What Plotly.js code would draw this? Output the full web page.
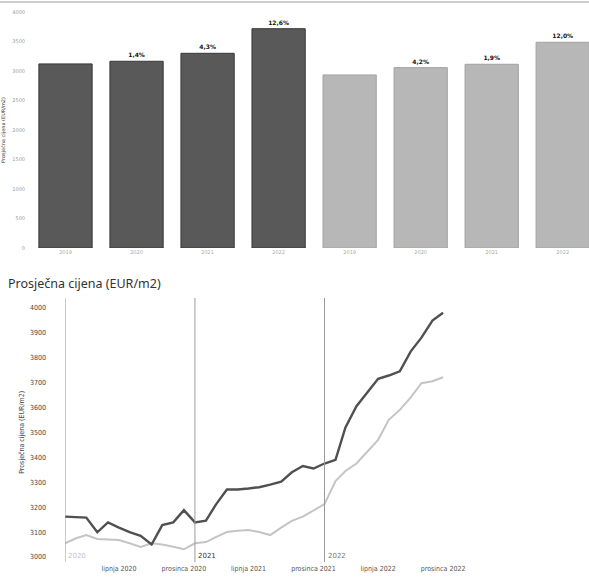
<!DOCTYPE html>
<html><head><meta charset="utf-8">
<script src="https://cdn.plot.ly/plotly-3.0.1.min.js"></script>
<style>html,body{margin:0;padding:0;background:#fff;}#chart{width:589px;height:578px;}</style>
</head><body><div id="chart"></div>
<script>
// ---- top bar chart data ----
const barCategories = ['2019', '2020', '2021', '2022', '2019', '2020', '2021', '2022'];
const barValues = [3120, 3165, 3300, 3717, 2933, 3057, 3114, 3487];
const barLabels = ['', '1,4%', '4,3%', '12,6%', '', '4,2%', '1,9%', '12,0%'];
const barYTicks = [0, 500, 1000, 1500, 2000, 2500, 3000, 3500, 4000];

// ---- bottom line chart data ----
const months = ['2020-01-01','2020-02-01','2020-03-01','2020-04-01','2020-05-01','2020-06-01',
  '2020-07-01','2020-08-01','2020-09-01','2020-10-01','2020-11-01','2020-12-01',
  '2021-01-01','2021-02-01','2021-03-01','2021-04-01','2021-05-01','2021-06-01',
  '2021-07-01','2021-08-01','2021-09-01','2021-10-01','2021-11-01','2021-12-01',
  '2022-01-01','2022-02-01','2022-03-01','2022-04-01','2022-05-01','2022-06-01',
  '2022-07-01','2022-08-01','2022-09-01','2022-10-01','2022-11-01','2022-12-01'];
const darkSeries = [3162, 3160, 3158, 3099, 3139, 3118, 3100, 3085, 3050, 3128, 3139, 3188,
  3139, 3146, 3210, 3271, 3271, 3275, 3280, 3290, 3302, 3340, 3365, 3355,
  3375, 3390, 3520, 3605, 3660, 3715, 3728, 3745, 3825, 3880, 3948, 3980];
const lightSeries = [3055, 3075, 3088, 3072, 3070, 3068, 3055, 3040, 3055, 3050, 3041, 3031,
  3055, 3060, 3080, 3100, 3105, 3108, 3100, 3088, 3118, 3145, 3162, 3185,
  3212, 3305, 3345, 3375, 3420, 3470, 3550, 3590, 3640, 3697, 3705, 3721];
const lineYTicks = [3000, 3100, 3200, 3300, 3400, 3500, 3600, 3700, 3800, 3900, 4000];
const lineXTickVals = ['2020-06-01', '2020-12-01', '2021-06-01', '2021-12-01', '2022-06-01', '2022-12-01'];
const lineXTickText = ['lipnja 2020', 'prosinca 2020', 'lipnja 2021', 'prosinca 2021', 'lipnja 2022', 'prosinca 2022'];
const yearMarkers = ['2020-01-01', '2021-01-01', '2022-01-01'];
const yearMarkerLabels = ['2020', '2021', '2022'];

const H = 578, W = 589;
const py = p => 1 - p / H;
const px = p => p / W;

const barIdx = barCategories.map((c, i) => i);
const barFill = barCategories.map((c, i) => i < 4 ? '#595959' : '#b7b7b7');
const barLine = barCategories.map((c, i) => i < 4 ? '#383838' : '#a2a2a2');

const traces = [
  {
    type: 'bar', x: barIdx, y: barValues, xaxis: 'x', yaxis: 'y',
    marker: {color: barFill, line: {color: barLine, width: 1}},
    text: barLabels, textposition: 'outside', cliponaxis: false,
    textfont: {size: 6, color: '#111', family: 'DejaVu Sans', weight: 'bold'},
    hoverinfo: 'skip', showlegend: false
  },
  {
    type: 'scatter', mode: 'lines', x: months, y: lightSeries, xaxis: 'x2', yaxis: 'y2',
    line: {color: '#c4c4c4', width: 2}, showlegend: false
  },
  {
    type: 'scatter', mode: 'lines', x: months, y: darkSeries, xaxis: 'x2', yaxis: 'y2',
    line: {color: '#505050', width: 2.4}, showlegend: false
  }
];

const shapes = [
  {type: 'line', xref: 'paper', yref: 'paper', x0: 0, x1: 1, y0: py(2), y1: py(2),
   line: {color: '#bdbdbd', width: 1.5}}
];
yearMarkers.forEach(d => shapes.push({
  type: 'line', xref: 'x2', yref: 'paper', x0: d, x1: d, y0: py(562), y1: py(298),
  line: {color: '#9a9a9a', width: 1}
}));

const yearColors = ['#c4c4c4', '#333333', '#777777'];
const annotations = [
  {text: 'Prosječna cijena (EUR/m2)', xref: 'paper', yref: 'paper', x: px(6), y: py(283),
   xanchor: 'left', yanchor: 'middle', showarrow: false,
   font: {size: 12.5, color: '#333', family: 'Noto Sans'}}
];
yearMarkers.forEach((d, i) => annotations.push({
  text: yearMarkerLabels[i], xref: 'x2', yref: 'paper', x: d, y: py(556),
  xanchor: 'left', yanchor: 'middle', xshift: 1, showarrow: false,
  font: {size: 7, color: yearColors[i], family: 'DejaVu Sans'}
}));

const layout = {
  width: W, height: H,
  margin: {l: 0, r: 0, t: 0, b: 0},
  paper_bgcolor: '#fff', plot_bgcolor: '#fff',
  bargap: 0.25,
  xaxis: {
    domain: [px(30), 1], range: [-0.5, 7.37],
    tickmode: 'array', tickvals: barIdx, ticktext: barCategories,
    tickfont: {size: 5, color: '#aaa', family: 'DejaVu Sans'},
    showgrid: false, zeroline: false, showline: false, ticks: '', fixedrange: true
  },
  yaxis: {
    domain: [py(248), py(12)], range: [0, 4000],
    tickmode: 'array', tickvals: barYTicks,
    tickfont: {size: 5, color: '#999', family: 'DejaVu Sans'},
    ticklabelstandoff: 4,
    showgrid: false, zeroline: false, showline: false, ticks: '',
    title: {text: 'Prosječna cijena (EUR/m2)', standoff: 6,
            font: {size: 5, color: '#333', family: 'DejaVu Sans'}}
  },
  xaxis2: {
    anchor: 'y2', type: 'date',
    domain: [px(65), 1], range: ['2020-01-01', '2024-01-16'],
    tickmode: 'array', tickvals: lineXTickVals, ticktext: lineXTickText,
    tickfont: {size: 7, color: '#555', family: 'DejaVu Sans Condensed'},
    ticklabelstandoff: 6,
    showgrid: false, zeroline: false, showline: false, ticks: ''
  },
  yaxis2: {
    anchor: 'x2',
    domain: [py(557), py(307.7)], range: [3000, 4000],
    tickmode: 'array', tickvals: lineYTicks,
    tickfont: {size: 7, color: '#444', family: 'DejaVu Sans Condensed'},
    ticklabelstandoff: 18,
    showgrid: false, zeroline: false, showline: false, ticks: '',
    title: {text: 'Prosječna cijena (EUR/m2)', standoff: 4,
            font: {size: 7, color: '#444', family: 'DejaVu Sans Condensed'}}
  },
  shapes: shapes,
  annotations: annotations
};

Plotly.newPlot('chart', traces, layout, {displayModeBar: false, staticPlot: true});
</script>
</body></html>
